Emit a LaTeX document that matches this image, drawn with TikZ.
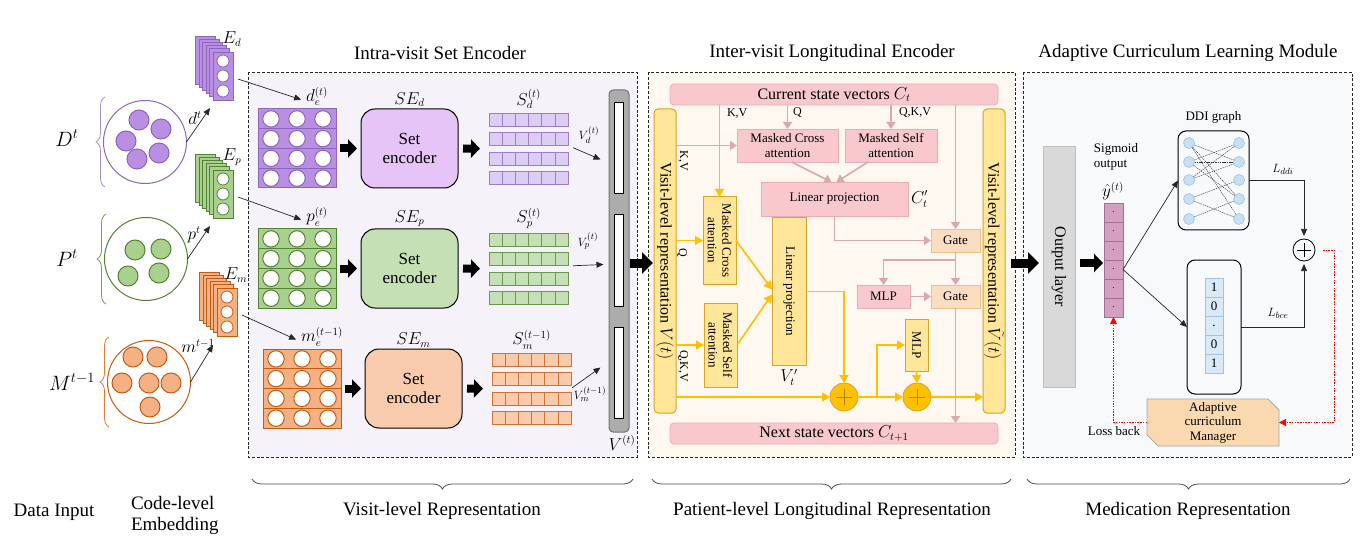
\documentclass[tikz,border=0pt]{standalone}
\usepackage{xcolor}
\usepackage{fontspec}
\setmainfont{Liberation Serif}
\usepackage{tikz}
\usetikzlibrary{arrows.meta,calc,positioning,decorations.pathreplacing,shapes.misc}
\definecolor{dpurple}{HTML}{8A66BC}
\definecolor{mpurple}{HTML}{B98EE3}
\definecolor{lpurple}{HTML}{E7C4F8}
\definecolor{cpurple}{HTML}{DCCDF4}
\definecolor{bpurple}{HTML}{A88ECB}
\definecolor{dgreen}{HTML}{548235}
\definecolor{mgreen}{HTML}{A9D18E}
\definecolor{lgreen}{HTML}{C5E0B4}
\definecolor{bgreen}{HTML}{70A04E}
\definecolor{dorange}{HTML}{C55A11}
\definecolor{morange}{HTML}{F4B183}
\definecolor{lorange}{HTML}{F8CBAD}
\definecolor{borange}{HTML}{E07A35}
\definecolor{secone}{HTML}{F6F2F9}
\definecolor{sectwo}{HTML}{FEF8F0}
\definecolor{secthree}{HTML}{F7F9FB}
\definecolor{pinkfill}{HTML}{F8C8CD}
\definecolor{pinkline}{HTML}{E9AEB4}
\definecolor{pinkarrow}{HTML}{D9A9B0}
\definecolor{yelfill}{HTML}{FFE699}
\definecolor{yelline}{HTML}{D4A52A}
\definecolor{gold}{HTML}{FFC000}
\definecolor{gatefill}{HTML}{FBDDC2}
\definecolor{gateline}{HTML}{F2BE8C}
\definecolor{sigfill}{HTML}{D3A1C0}
\definecolor{sigline}{HTML}{A46E8E}
\definecolor{ddifill}{HTML}{C9DFF2}
\definecolor{ddiline}{HTML}{9DC3E6}
\definecolor{mgrfill}{HTML}{FAD9B0}

\begin{document}
\begin{tikzpicture}[x=1pt, y=-1pt,
    every node/.style={inner sep=0pt, outer sep=0pt},
    ftitle/.style={font=\fontsize{19}{21}\selectfont},
    fbig/.style={font=\fontsize{16}{18}\selectfont},
    fmath/.style={font=\fontsize{16}{17}\selectfont},
    fmid/.style={font=\fontsize{13}{14.5}\selectfont},
    fsmall/.style={font=\fontsize{12}{13}\selectfont},
    secbox/.style={draw=black!85, line width=0.9pt, dash pattern=on 3pt off 1.8pt},
    thinarr/.style={draw=black!85, line width=0.7pt, -{Triangle[length=7pt,width=6pt]}},
    blockarr/.style={line width=8pt, -{Triangle[length=9pt,width=18pt]}},
    bigarr/.style={line width=9pt, -{Triangle[length=11pt,width=21pt]}},
    pinkbox/.style={draw=pinkline, fill=pinkfill, line width=0.8pt, fmid, align=center},
    pinkarr/.style={draw=pinkarrow, line width=1.6pt, -{Triangle[length=7pt,width=9pt]}},
    yelbox/.style={draw=yelline, fill=yelfill, line width=1pt},
    yelarr/.style={draw=gold, line width=1.6pt, -{Triangle[length=8pt,width=9pt]}},
    gatebox/.style={draw=gateline, fill=gatefill, line width=0.8pt, fmid,
      minimum width=49pt, minimum height=23pt},
    goldplus/.style={circle, draw=yelline, fill=gold, line width=0.8pt, minimum size=28pt},
    redarr/.style={draw=red, line width=0.8pt, dash pattern=on 1.5pt off 1.2pt,
      -{Triangle[length=7pt,width=7pt]}},
    ddinode/.style={circle, draw=ddiline, fill=ddifill, line width=0.6pt, minimum size=11pt},
    sigcell/.style={draw=sigline, fill=sigfill, line width=0.7pt, minimum width=19pt,
      minimum height=19pt, font=\fontsize{9}{9}\selectfont},
    vcell/.style={draw=ddiline, fill=ddifill!70, line width=0.7pt, minimum width=18pt,
      minimum height=19pt, fmid},
    btmbrace/.style={draw=black!70, line width=0.8pt, decorate,
      decoration={brace, amplitude=10pt, mirror}},
  ]
\useasboundingbox (0,0) rectangle (1372,553);

% Section frames
\draw[secbox, fill=secone] (248,72) rectangle (637,457);
\draw[secbox, fill=sectwo] (648,72) rectangle (1015,457);
\draw[secbox, fill=secthree] (1023,72) rectangle (1352,457);
\node[ftitle] (tone) at (440,53) {Intra-visit Set Encoder};
\node[ftitle] (ttwo) at (832,53) {Inter-visit Longitudinal Encoder};
\node[ftitle] (tthree) at (1188,53) {Adaptive Curriculum Learning Module};

% Data input
\foreach \nm/\cx/\cy/\lx/\ly/\lc/\bc/\lab in {%
    D/145/142/67/138/dpurple/bpurple/{D^t},
    P/146/259/67/258/dgreen/bgreen/{P^t},
    M/149/382/72/382/dorange/borange/{M^{t-1}}} {
  \node[circle, draw=\lc, line width=1pt, minimum size=83pt] (set\nm) at (\cx,\cy) {};
  \draw[\bc, line width=0.8pt, decorate, decoration={brace, amplitude=9pt}]
    (\cx-40,\cy+45) -- (\cx-40,\cy-45);
  \node[font=\fontsize{20}{22}\selectfont] (in\nm) at (\lx,\ly) {$\lab$};
}
\foreach \x/\y in {139/120, 161/129, 126/141, 159/153, 137/159}
  \draw[dpurple, fill=mpurple, line width=1pt] (\x,\y) circle (10);
\foreach \x/\y in {135/250, 161/249, 128/276, 159/273}
  \draw[dgreen, fill=mgreen, line width=1pt] (\x,\y) circle (10);
\foreach \x/\y in {133/357, 157/357, 122/383, 149/383, 171/383, 150/407}
  \draw[dorange, fill=morange, line width=1pt] (\x,\y) circle (10);

% Code-level embedding stacks
\foreach \nm/\x/\y/\fc/\lc in {d/213/52/mpurple/dpurple,
    p/213/170/mgreen/dgreen, m/217/288/morange/dorange} {
  \foreach \k in {5,4,3,2,1}
    \draw[\lc, fill=\fc, line width=0.7pt] (\x-3.5*\k,\y-3.2*\k) rectangle ++(20,48);
  \node[draw=\lc, fill=\fc, line width=0.8pt, minimum width=20pt, minimum height=48pt,
    anchor=north west] (emb\nm) at (\x,\y) {};
  \foreach \j in {0,1,2}
    \draw[\lc, fill=white, line width=0.8pt] (\x+10,\y+9+15*\j) circle (6);
  \node[fmath] (elab\nm) at (\x+19,\y-13) {$E_\nm$};
}
\draw[thinarr] (setD.east) -- ($(embd.south west)+(-3,8)$);
\draw[thinarr] (setP.east) -- ($(embp.south west)+(-3,8)$);
\draw[thinarr] (setM.east) -- ($(embm.south west)+(-4,9)$);
\node[fmath] (cd) at (195,118) {$d^t$};
\node[fmath] (cp) at (194,235) {$p^t$};
\node[fmath] (cm) at (198,346) {$m^{t-1}$};

% Set encoder rows
\foreach \g/\my/\mx/\sx/\rx/\fc/\lc/\sc/\cc/\del/\sel/\sl in {%
    d/109/258/361/489/mpurple/dpurple/lpurple/cpurple/{d_e^{(t)}}/{SE_d}/{S_d^{(t)}},
    p/229/258/361/489/mgreen/dgreen/lgreen/lgreen/{p_e^{(t)}}/{SE_p}/{S_p^{(t)}},
    m/349/263/365/492/morange/dorange/lorange/lorange/{m_e^{(t-1)}}/{SE_m}/{S_m^{(t-1)}}} {
  % embedded codes
  \node[minimum width=78pt, minimum height=79pt, anchor=north west] (mat\g) at (\mx,\my) {};
  \foreach \r in {0,...,3} {
    \draw[\lc, fill=\fc, line width=1pt] (\mx,\my+19.75*\r) rectangle ++(78,19.75);
    \foreach \c in {0,1,2}
      \draw[\lc, fill=white, line width=1pt] (\mx+13+26*\c,\my+9.9+19.75*\r) circle (8.2);
  }
  \node[fmath, anchor=south] (lab\g) at (\mx+59,\my-3) {$\del$};
  \draw[thinarr] ($(emb\g.east)+(5,3)$) -- ($(lab\g.west)+(-5,3)$);
  % set encoder
  \node[draw, fill=\sc, line width=1pt, rounded corners=14pt, minimum width=97pt,
    minimum height=79pt, font=\fontsize{17}{19}\selectfont, align=center]
    (se\g) at (\sx+48.5,\my+39.5) {Set\\encoder};
  \node[fmath, above=2pt of se\g] (sel\g) {$\sel$};
  % set vectors
  \foreach \r in {0,...,3}
    \foreach \c in {0,...,5}
      \draw[\lc!85, fill=\cc, line width=0.7pt] (\rx+13.2*\c,\my+4+19.5*\r) rectangle ++(13.2,13);
  \node[minimum width=79.2pt, minimum height=71.5pt, anchor=north west] (s\g) at (\rx,\my+4) {};
  \node[fmath, above=4pt of s\g] (slab\g) {$\sl$};
  \draw[blockarr] ($(mat\g.east)+(4,0)$) -- ($(se\g.west)+(-4,0)$);
  \draw[blockarr] ($(se\g.east)+(5,0)$) -- ($(s\g.west)+(-9,0)$);
}

% Visit vector
\node[draw=gray!90!black, fill=gray!65, line width=1pt, rounded corners=4pt,
  minimum width=20pt, minimum height=342pt] (vbar) at (619,261) {};
\foreach \g/\ya in {d/103, p/215, m/327}
  \node[draw, fill=white, line width=1pt, minimum width=9pt, minimum height=91pt,
    anchor=north] (v\g) at (619,\ya) {};
\node[fmath] (vt) at (622,443) {$V^{(t)}$};
\draw[thinarr] ($(sd.east)+(5,-1)$) -- ($(vd.west)+(-14,11)$);
\draw[thinarr] ($(sp.east)+(5,-3)$) -- ($(vp.west)+(-11,4)$);
\draw[thinarr] ($(sm.east)+(1,-1)$) -- ($(vm.west)+(-14,-5)$);
\node[font=\fontsize{13}{14}\selectfont] (lvd) at (589,135) {$V_d^{(t)}$};
\node[font=\fontsize{13}{14}\selectfont] (lvp) at (588,241) {$V_p^{(t)}$};
\node[font=\fontsize{13}{14}\selectfont] (lvm) at (590,394) {$V_m^{(t-1)}$};

% Inter-visit encoder
\node[pinkbox, fbig, rounded corners=4pt, minimum width=328pt, minimum height=21pt]
  (cur) at (834,94.5) {Current state vectors $C_t$};
\node[pinkbox, fbig, rounded corners=4pt, minimum width=328pt, minimum height=21pt]
  (nxt) at (834,433.5) {Next state vectors $C_{t+1}$};
\node[yelbox, rounded corners=4pt, minimum width=22pt, minimum height=304pt] (lbar) at (665,261) {};
\node[fbig, rotate=-90] at (lbar.center) {Visit-level representation $V(t)$};
\node[yelbox, rounded corners=4pt, minimum width=22pt, minimum height=304pt] (rbar) at (994,261) {};
\node[fbig, rotate=-90] at (rbar.center) {Visit-level representation $\tilde{V}(t)$};
\node[pinkbox, minimum width=101pt, minimum height=33pt] (mca) at (787.5,145.5) {Masked Cross\\attention};
\node[pinkbox, minimum width=92pt, minimum height=33pt] (msa) at (891,145.5) {Masked Self\\attention};
\node[pinkbox, minimum width=147pt, minimum height=34pt] (lpp) at (834.5,199) {Linear projection};
\node[fmath, right=3pt of lpp] (ctp) {$C_t'$};
\node[gatebox] (gate1) at (955.5,240.5) {Gate};
\node[gatebox] (gate2) at (955.5,296.5) {Gate};
\node[pinkbox, minimum width=53pt, minimum height=23pt] (mlpp) at (883.5,296.5) {MLP};
\node[yelbox, minimum width=33pt, minimum height=87pt] (mcy) at (719.5,240.5) {};
\node[fmid, rotate=-90, align=center] at (mcy.center) {Masked Cross\\attention};
\node[yelbox, minimum width=33pt, minimum height=84pt] (msy) at (720.5,345) {};
\node[fmid, rotate=-90, align=center] at (msy.center) {Masked Self\\attention};
\node[yelbox, minimum width=34pt, minimum height=147pt] (lpy) at (789,291.5) {};
\node[fmid, rotate=-90] at (lpy.center) {Linear projection};
\node[fmath, below=4pt of lpy] (vtp) {$V_t'$};
\node[yelbox, minimum width=23pt, minimum height=52pt] (mlpy) at (916.5,345) {};
\node[fmid, rotate=-90] at (mlpy.center) {MLP};
\node[goldplus] (plus1) at (844,397) {};
\node[goldplus] (plus2) at (917,397) {};
\foreach \p in {plus1, plus2}
  \draw[yelline!80!black, line width=0.6pt] ($(\p)+(-8,0)$) -- ($(\p)+(8,0)$)
    ($(\p)+(0,-8)$) -- ($(\p)+(0,8)$);
% pink flow
\draw[pinkarr] (cur.south -| mca.north) -- (mca.north);
\draw[pinkarr] (cur.south -| msa.north) -- (msa.north);
\draw[pinkarr] (cur.south -| gate1.north) -- (gate1.north);
\draw[pinkarr] (lbar.east |- mca.west) -- (mca.west);
\draw[pinkarr] ($(mca.south)+(4,0)$) -- ($(lpp.north)+(-3,0)$);
\draw[pinkarr] ($(msa.south)+(-23,0)$) -- ($(lpp.north)+(2,0)$);
\draw[pinkarr] (lpp.south) |- (gate1.west);
\draw[pinkarr] (gate1.south) -- (gate2.north);
\draw[pinkarr] ($(gate1.south)+(0,8)$) -| (mlpp.north);
\draw[pinkarr] (mlpp.east) -- (gate2.west);
\draw[pinkarr] (gate2.south) -- (gate2.south |- nxt.north);
% yellow flow
\draw[yelarr] (cur.south -| mcy.north) -- (mcy.north);
\draw[yelarr] (lbar.east |- mcy.west) -- (mcy.west);
\draw[yelarr] (lbar.east |- msy.west) -- (msy.west);
\draw[yelarr] (mcy.east) -- ($(lpy.west)+(0,-2)$);
\draw[yelarr] (msy.east) -- ($(lpy.west)+(0,3)$);
\draw[yelarr] (lpy.east) -| (plus1.north);
\draw[yelarr] (lbar.east |- plus1.west) -- (plus1.west);
\draw[yelarr] (plus1.east) -- (plus2.west);
\draw[yelarr] ($(plus1.east)!0.42!(plus2.west)$) |- (mlpy.west);
\draw[yelarr] (mlpy.south) -- (plus2.north);
\draw[yelarr] (plus2.east) -- (rbar.west |- plus2.east);
\node[fsmall, anchor=west] (kv) at (727,113) {K,V};
\node[fsmall, anchor=west] (q) at (793,113) {Q};
\node[fsmall, anchor=west] (qkv) at (899,113) {Q,K,V};
\node[fsmall, rotate=-90] (kvr) at (683,161) {K,V};
\node[fsmall, rotate=-90] (qr) at (682,253) {Q};
\node[fsmall, rotate=-90] (qkvr) at (683,366) {Q,K,V};

% Block arrows between sections
\draw[bigarr] ($(vbar.east)+(1,2)$) -- ($(lbar.west)+(-1,2)$);
\draw[bigarr] ($(rbar.east)+(6,2)$) -- ($(rbar.east)+(34,2)$);

% Curriculum module
\node[draw=gray!50, fill=gray!30, line width=1pt, minimum width=32pt, minimum height=240pt]
  (outl) at (1059,267) {};
\node[fbig, rotate=-90] at (outl.center) {Output layer};
\draw[blockarr] ($(outl.east)+(5,-4)$) -- ($(outl.east)+(28,-4)$);
\foreach \i in {0,...,5}
  \node[sigcell] (sig\i) at (1113.5,212.5+19*\i) {.};
\node[fmid, align=left] (sigt) at (1116,157) {Sigmoid\\output};
\node[fmath, anchor=south] (yhat) at (1113,200) {$\hat{y}^{(t)}$};
\node[draw, line width=1pt, rounded corners=8pt, minimum width=71pt, minimum height=99pt]
  (ddi) at (1213.5,180.5) {};
\node[fmid, above=8pt of ddi] (ddit) {DDI graph};
\foreach \i/\y in {1/143, 2/162, 3/180, 4/199, 5/219} {
  \node[ddinode] (l\i) at (1189,\y) {};
  \node[ddinode] (r\i) at (1239,\y) {};
}
\foreach \a/\b in {1/2, 1/4, 1/5, 2/1, 2/2, 2/4, 3/1, 3/2, 4/3, 4/5, 5/4}
  \draw[black!80, line width=0.4pt, dash pattern=on 1.5pt off 0.8pt] (l\a) -- (r\b);
\node[draw, line width=1pt, rounded corners=8pt, minimum width=54pt, minimum height=134pt]
  (lbl) at (1214,327) {};
\foreach \i/\v in {0/1, 1/0, 2/., 3/0, 4/1}
  \node[vcell] (gt\i) at (1214,287.5+19*\i) {\v};
\draw[thinarr] (sig3.east) -- (ddi.west);
\draw[thinarr] (sig3.east) -- (lbl.west);
\node[draw, line width=0.8pt, minimum size=22pt, circle] (plus3) at (1304,250) {};
\draw[line width=0.8pt] ($(plus3)+(-7,0)$) -- ($(plus3)+(7,0)$) ($(plus3)+(0,-7)$) -- ($(plus3)+(0,7)$);
\draw[thinarr] (ddi.east) -| ($(plus3.north)+(0,-3)$);
\draw[thinarr] (lbl.east) -| ($(plus3.south)+(0,3)$);
\node[fmid] (lddi) at (1283,169) {$L_{ddi}$};
\node[fmid] (lbce) at (1278,313) {$L_{bce}$};
\node[chamfered rectangle, chamfered rectangle corners={north east, south west},
  chamfered rectangle xsep=8pt, draw=gray!70, fill=mgrfill, line width=0.8pt,
  minimum width=132pt, minimum height=47pt, fmid, align=center]
  (mgr) at (1213,422.5) {Adaptive\\curriculum\\Manager};
\draw[redarr] ($(plus3.east)+(8,0)$) -- ++(11,0) |- (mgr.east);
\draw[redarr] (mgr.west) -| (sig5.south);
\node[fmid] (lossb) at (1114,431) {Loss back};

% Bottom captions
\draw[btmbrace] (252,479) -- (633,479);
\draw[btmbrace] (652,479) -- (1011,479);
\draw[btmbrace] (1027,479) -- (1350,479);
\node[ftitle] (cdata) at (54,512) {Data Input};
\node[ftitle, align=left, anchor=west] (ccode) at (131,515) {Code-level\\Embedding};
\node[ftitle] (cvisit) at (442,511) {Visit-level Representation};
\node[ftitle] (cpat) at (832,511) {Patient-level Longitudinal Representation};
\node[ftitle] (cmed) at (1188,511) {Medication Representation};
\end{tikzpicture}
\end{document}
